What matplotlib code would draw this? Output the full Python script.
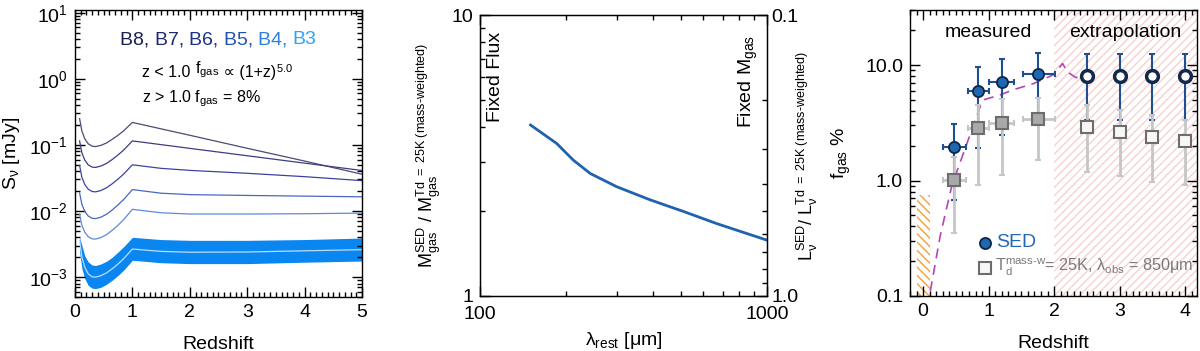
import numpy as np
import matplotlib.pyplot as plt
from matplotlib.ticker import LogLocator, NullFormatter, MultipleLocator, FixedLocator, FixedFormatter

plt.rcParams['font.family'] = ['Liberation Sans', 'DejaVu Sans']
plt.rcParams['mathtext.fontset'] = 'custom'
plt.rcParams['mathtext.rm'] = 'Liberation Sans'
plt.rcParams['mathtext.it'] = 'Liberation Sans:italic'
plt.rcParams['mathtext.default'] = 'regular'
plt.rcParams['hatch.linewidth'] = 1.0

# ---- panel 1: flux density vs redshift per ALMA band ----
z_curve = [0.08, 0.12, 0.17, 0.23, 0.30, 0.36, 0.45, 0.55, 0.65, 0.75, 0.85, 1.0,
           1.5, 2.0, 3.0, 4.0, 5.0]
flux_b8 = [0.25, 0.162, 0.124, 0.104, 0.0955, 0.0944, 0.0984, 0.107, 0.122, 0.140, 0.164, 0.219,
           0.175, 0.140, 0.089, 0.057, 0.036]
flux_b7 = [0.115, 0.076, 0.059, 0.050, 0.0461, 0.0457, 0.0479, 0.0525, 0.0603, 0.0705, 0.084, 0.115,
           0.101, 0.0887, 0.0686, 0.053, 0.041]
flux_b6 = [0.049, 0.0324, 0.0252, 0.0214, 0.0197, 0.0195, 0.0204, 0.0225, 0.0259, 0.0304, 0.0364, 0.050,
           0.0442, 0.0412, 0.0372, 0.0331, 0.0288]
flux_b5 = [0.0188, 0.0126, 0.00986, 0.0084, 0.00776, 0.00767, 0.00807, 0.00893, 0.0104, 0.0124, 0.015, 0.0211,
           0.0186, 0.0177, 0.0172, 0.0168, 0.0164]
flux_b4 = [0.0089, 0.00604, 0.00478, 0.00409, 0.00379, 0.00376, 0.00396, 0.0044, 0.00513, 0.0061, 0.00745, 0.0106,
           0.0094, 0.0090, 0.0090, 0.0091, 0.0093]
flux_b3 = [0.0036, 0.0020, 0.00141, 0.00112, 0.00101, 0.0010, 0.00105, 0.00116, 0.00134, 0.00158, 0.00191, 0.00266,
           0.00245, 0.00238, 0.0024, 0.0025, 0.0026]
flux_b3_hi = [0.0040, 0.0030, 0.0021, 0.0017, 0.00152, 0.0015, 0.00158, 0.00174, 0.0020, 0.0024, 0.0029, 0.0040,
              0.0037, 0.0036, 0.0036, 0.0037, 0.0039]
flux_b3_lo = [0.0024, 0.00135, 0.00095, 0.00075, 0.00068, 0.00067, 0.0007, 0.00078, 0.0009, 0.00106, 0.00128, 0.0018,
              0.00165, 0.0016, 0.0016, 0.00168, 0.00175]
band_names = ['B8', 'B7', 'B6', 'B5', 'B4', 'B3']
band_colors = ['#1b1f4e', '#1d2a70', '#1b2f8c', '#2353b2', '#2b82e0', '#2ea3f6']
line_colors = ['#4b4b70', '#3d3d82', '#3b43a0', '#4a66c0', '#5b8ad8']

# ---- panel 2: gas mass ratio vs rest wavelength ----
lam_rest = [150, 185, 211, 242, 299, 391, 511, 668, 1000]
mgas_ratio = [4.06, 3.49, 3.05, 2.73, 2.45, 2.20, 2.00, 1.81, 1.58]

# ---- panel 3: gas fraction vs redshift ----
z_meas = [0.47, 0.84, 1.20, 1.75]
z_meas_lo = [0.30, 0.68, 1.01, 1.53]
z_meas_hi = [0.65, 1.01, 1.38, 2.02]
fgas_sed = [1.96, 6.0, 7.2, 8.4]
fgas_sed_lo = [0.68, 1.92, 2.48, 3.4]
fgas_sed_hi = [3.08, 9.55, 11.3, 12.8]
fgas_td = [1.01, 2.83, 3.16, 3.4]
fgas_td_lo = [0.35, 0.91, 1.12, 1.5]
fgas_td_hi = [1.6, 4.5, 5.08, 5.2]
z_extr = [2.5, 3.0, 3.5, 4.0]
fgas_sed_ex = [8.0, 8.0, 8.0, 8.0]
fgas_sed_ex_lo = [3.34, 3.34, 3.34, 3.34]
fgas_sed_ex_hi = [12.4, 12.4, 12.4, 12.4]
fgas_td_ex = [2.89, 2.65, 2.4, 2.21]
fgas_td_ex_lo = [1.19, 1.09, 0.98, 0.91]
fgas_td_ex_hi = [4.5, 4.07, 3.69, 3.34]
model_z = [0.11, 0.26, 0.44, 0.87, 0.91, 1.17, 1.37, 1.68, 1.98, 2.13, 2.2, 2.33, 2.41]
model_f = [0.11, 0.33, 0.91, 4.36, 4.98, 5.5, 6.1, 6.9, 8.2, 10.3, 8.75, 7.8, 7.9]


def style(ax, right=True):
    ax.tick_params(which='both', direction='in', top=True, right=right, labelsize=14, width=1)
    ax.tick_params(which='major', length=7, pad=5)
    ax.tick_params(which='minor', length=3.5)
    for s in ax.spines.values():
        s.set_linewidth(1)


def chain(ax, x, y, pieces, **kw):
    # write text pieces one after another on the same baseline
    prev = ax.text(x, y, pieces[0][0], transform=ax.transAxes, color=pieces[0][1],
                   va='baseline', ha='left', **kw)
    for s, c in pieces[1:]:
        prev = ax.annotate(s, xy=(1, 0), xycoords=prev, va='bottom', ha='left', color=c, **kw)


fig = plt.figure(figsize=(12, 3.51), dpi=100)

# panel 1
ax1 = fig.add_axes([75 / 1200, 54 / 351, 287 / 1200, 287 / 351])
curves = [flux_b8, flux_b7, flux_b6, flux_b5, flux_b4]
for vals, c in zip(curves, line_colors):
    ax1.plot(z_curve, vals, color=c, lw=0.9)
ax1.fill_between(z_curve, flux_b3_lo, flux_b3_hi, color='#0a86f0', lw=0)
ax1.plot(z_curve, flux_b3, color='#b8ddff', lw=0.9)
ax1.set_yscale('log')
ax1.set_xlim(0, 5)
ax1.set_ylim(5e-4, 11)
ax1.xaxis.set_major_locator(MultipleLocator(1))
ax1.xaxis.set_minor_locator(MultipleLocator(0.1))
ax1.yaxis.set_major_locator(LogLocator(base=10, numticks=10))
ax1.yaxis.set_minor_locator(LogLocator(base=10, subs=np.arange(2, 10), numticks=20))
ax1.yaxis.set_minor_formatter(NullFormatter())
style(ax1)
ax1.set_xlabel('Redshift', fontsize=14)
ax1.xaxis.set_label_coords(0.5, -0.135)
ax1.set_ylabel('$S_ν$ [mJy]', fontsize=14)
ax1.yaxis.set_label_coords(-0.185, 0.5)

chain(ax1, 0.157, 0.88,
      [(band_names[i] + (', ' if i < len(band_names) - 1 else ''), band_colors[i])
       for i in range(len(band_names))], fontsize=14)
chain(ax1, 0.233, 0.765, [('z < 1.0 ', 'black'), ('$f_{gas}$', 'black'),
                          (' ∝ (1+z)', 'black'), ('$^{5.0}$', 'black')], fontsize=11.5)
ax1.text(0.233, 0.678, 'z > 1.0 $f_{gas}$ = 8%', transform=ax1.transAxes,
         fontsize=11.5, va='baseline', ha='left')

# panel 2
ax2 = fig.add_axes([480 / 1200, 55 / 351, 287 / 1200, 281 / 351])
ax2.plot(lam_rest, mgas_ratio, color='#1f62ad', lw=2)
ax2.set_xscale('log')
ax2.set_yscale('log')
ax2.set_xlim(100, 1000)
ax2.set_ylim(1, 10)
ax2.xaxis.set_major_locator(FixedLocator([100, 1000]))
ax2.xaxis.set_major_formatter(FixedFormatter(['100', '1000']))
ax2.xaxis.set_minor_locator(LogLocator(base=10, subs=np.arange(2, 10), numticks=10))
ax2.xaxis.set_minor_formatter(NullFormatter())
ax2.yaxis.set_major_locator(FixedLocator([1, 10]))
ax2.yaxis.set_major_formatter(FixedFormatter(['1', '10']))
ax2.yaxis.set_minor_locator(LogLocator(base=10, subs=np.arange(2, 10), numticks=10))
ax2.yaxis.set_minor_formatter(NullFormatter())
style(ax2, right=False)
ax2.tick_params(axis='x', which='major', pad=7)
ax2.set_xlabel('λ$_{rest}$ [μm]', fontsize=14)
ax2.xaxis.set_label_coords(0.5, -0.12)
ax2.set_ylabel('$M_{gas}^{SED}$ / $M_{gas}^{Td\\ =\\ 25K\\ (mass\u2010weighted)}$', fontsize=13)
ax2.yaxis.set_label_coords(-0.129, 0.5)
ax2.text(113, 6.0, 'Fixed Flux', rotation=90, fontsize=14, ha='center', va='center')
ax2.text(859, 5.8, 'Fixed $M_{gas}$', rotation=90, fontsize=14, ha='center', va='center')

ax2r = ax2.twinx()
ax2r.set_yscale('log')
ax2r.set_ylim(1.0, 0.1)
ax2r.yaxis.set_major_locator(FixedLocator([0.1, 1.0]))
ax2r.yaxis.set_major_formatter(FixedFormatter(['0.1', '1.0']))
ax2r.yaxis.set_minor_locator(LogLocator(base=10, subs=np.arange(2, 10), numticks=10))
ax2r.yaxis.set_minor_formatter(NullFormatter())
ax2r.tick_params(which='both', direction='in', labelsize=14, width=1)
ax2r.tick_params(which='major', length=7, pad=3)
ax2r.tick_params(which='minor', length=3.5)
ax2r.set_ylabel('$L_ν^{SED}$/ $L_ν^{Td\\ =\\ 25K\\ (mass\u2010weighted)}$', fontsize=13,
                rotation=90, va='top')
ax2r.yaxis.set_label_coords(1.098, 0.5)

# panel 3
ax3 = fig.add_axes([910 / 1200, 55 / 351, 287 / 1200, 286 / 351])
ax3.set_yscale('log')
ax3.set_xlim(-0.2, 4.18)
ax3.set_ylim(0.1, 30)
ax3.axvspan(2.0, 4.18, facecolor='none', edgecolor='#f6d2d2', hatch='////', lw=0, zorder=0)
ax3.fill_between([-0.1, 0.1], 0.1, 0.75, facecolor='none', edgecolor='#f5a030',
                 hatch='\\\\\\\\', lw=0, zorder=1)
ax3.plot(model_z, model_f, color='#b446b4', lw=1.2, dashes=(6, 4), zorder=2)

zm = np.array(z_meas)
xerr_m = [zm - np.array(z_meas_lo), np.array(z_meas_hi) - zm]
fs = np.array(fgas_sed)
ax3.errorbar(z_meas, fgas_sed, yerr=[fs - np.array(fgas_sed_lo), np.array(fgas_sed_hi) - fs],
             xerr=xerr_m, fmt='none', ecolor='#1d4f91', elinewidth=1.5, capsize=2.5,
             capthick=1.5, zorder=3)
fe = np.array(fgas_sed_ex)
ax3.errorbar(z_extr, fgas_sed_ex, yerr=[fe - np.array(fgas_sed_ex_lo), np.array(fgas_sed_ex_hi) - fe],
             fmt='none', ecolor='#1d4f91', elinewidth=1.5, capsize=2.5, capthick=1.5, zorder=3)
ft = np.array(fgas_td)
ax3.errorbar(z_meas, fgas_td, yerr=[ft - np.array(fgas_td_lo), np.array(fgas_td_hi) - ft],
             xerr=xerr_m, fmt='none', ecolor='#c6c6c6', elinewidth=2, capsize=2.5,
             capthick=1.5, zorder=4)
fte = np.array(fgas_td_ex)
ax3.errorbar(z_extr, fgas_td_ex, yerr=[fte - np.array(fgas_td_ex_lo), np.array(fgas_td_ex_hi) - fte],
             fmt='none', ecolor='#c6c6c6', elinewidth=2, capsize=2.5, capthick=1.5, zorder=4)
ax3.plot(z_meas, fgas_td, 's', ms=8.5, mfc='#a9a9a9', mec='#6d6d6d', mew=1.5, zorder=5)
ax3.plot(z_extr, fgas_td_ex, 's', ms=8.5, mfc='#f7f7f7', mec='#6d6d6d', mew=1.5, zorder=5)
ax3.plot(z_meas, fgas_sed, 'o', ms=8, mfc='#1f67b1', mec='#0c2648', mew=1.3, zorder=6)
ax3.plot(z_extr, fgas_sed_ex, 'o', ms=8.5, mfc='white', mec='#12294a', mew=2.5, zorder=6)

ax3.text(1.0, 19, 'measured', ha='center', va='center', fontsize=14)
ax3.text(3.08, 19, 'extrapolation', ha='center', va='center', fontsize=14)
ax3.plot([0.95], [0.29], 'o', ms=8, mfc='#1f67b1', mec='#0c2648', mew=1.3, zorder=6)
ax3.text(1.12, 0.29, 'SED', color='#2468b4', fontsize=14, va='center', ha='left')
ax3.plot([0.95], [0.175], 's', ms=8.5, mfc='#f7f7f7', mec='#6d6d6d', mew=1.5, zorder=6)
ax3.text(1.1, 0.175, '$T_d^{mass\u2010w}$= 25K, $λ_{obs}$ = 850μm', color='#7a7a7a',
         fontsize=11.7, va='center', ha='left')

ax3.xaxis.set_major_locator(FixedLocator([0, 1, 2, 3, 4]))
ax3.xaxis.set_minor_locator(MultipleLocator(0.1))
ax3.yaxis.set_major_locator(FixedLocator([0.1, 1.0, 10.0]))
ax3.yaxis.set_major_formatter(FixedFormatter(['0.1', '1.0', '10.0']))
ax3.yaxis.set_minor_locator(LogLocator(base=10, subs=np.arange(2, 10), numticks=10))
ax3.yaxis.set_minor_formatter(NullFormatter())
style(ax3)
ax3.set_xlabel('Redshift', fontsize=14)
ax3.xaxis.set_label_coords(0.5, -0.135)
ax3.set_ylabel('$f_{gas}$ %', fontsize=14)
ax3.yaxis.set_label_coords(-0.20, 0.5)

fig.savefig('out.png', dpi=100)
